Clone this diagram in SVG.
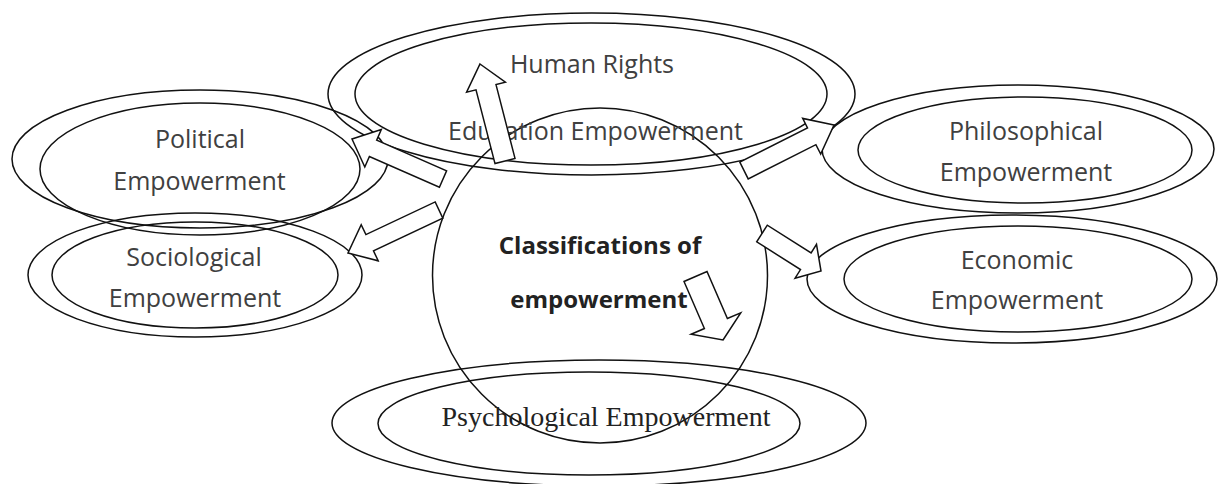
<svg xmlns="http://www.w3.org/2000/svg" width="1220" height="484" viewBox="0 0 1220 484">
<style>
.ring{fill:none;stroke:#111;stroke-width:1.5}
.arrow{fill:#fff;stroke:#111;stroke-width:1.5;stroke-linejoin:miter}
.lbl{font-family:"Open Sans","Liberation Sans",sans-serif;font-size:25px;fill:#404040;text-anchor:middle}
.ctr{font-family:"Open Sans","Liberation Sans",sans-serif;font-size:24px;font-weight:bold;fill:#222;text-anchor:middle}
.serif{font-family:"Liberation Serif","DejaVu Serif",serif;font-size:28px;fill:#222;text-anchor:middle}
</style>
<rect width="1220" height="484" fill="#fff"/>
<g id="node-center">
<circle class="ring" cx="600" cy="275.5" r="167.5"/>
<text class="ctr" x="600" y="254">Classifications of</text>
<text class="ctr" x="599" y="307.5">empowerment</text>
</g>
<g id="node-human-rights-education">
<ellipse class="ring" cx="591.5" cy="94" rx="263.5" ry="81"/>
<ellipse class="ring" cx="591" cy="94" rx="236" ry="71"/>
<text class="lbl" x="592" y="73">Human Rights</text>
<text class="lbl" x="595.5" y="140">Education Empowerment</text>
</g>
<g id="node-political">
<ellipse class="ring" cx="200" cy="159" rx="188" ry="69"/>
<ellipse class="ring" cx="200" cy="169" rx="160" ry="66"/>
<text class="lbl" x="200" y="148">Political</text>
<text class="lbl" x="199.5" y="190">Empowerment</text>
</g>
<g id="node-sociological">
<ellipse class="ring" cx="195" cy="275" rx="167" ry="62"/>
<ellipse class="ring" cx="195" cy="275" rx="143" ry="53"/>
<text class="lbl" x="194" y="265.5">Sociological</text>
<text class="lbl" x="195" y="306.5">Empowerment</text>
</g>
<g id="node-philosophical">
<ellipse class="ring" cx="1018" cy="149" rx="196" ry="64"/>
<ellipse class="ring" cx="1025" cy="150" rx="167" ry="53"/>
<text class="lbl" x="1026" y="140">Philosophical</text>
<text class="lbl" x="1026" y="180.5">Empowerment</text>
</g>
<g id="node-economic">
<ellipse class="ring" cx="1012" cy="279" rx="205" ry="64"/>
<ellipse class="ring" cx="1018" cy="279" rx="174" ry="53"/>
<text class="lbl" x="1017" y="269">Economic</text>
<text class="lbl" x="1017" y="309">Empowerment</text>
</g>
<g id="node-psychological">
<ellipse class="ring" cx="599" cy="423" rx="267" ry="63"/>
<ellipse class="ring" cx="589" cy="423.5" rx="211" ry="51.5"/>
<text class="serif" x="606" y="426">Psychological Empowerment</text>
</g>
<g id="connectors">
<polygon class="arrow" points="480,64 505.4,82.2 496,84.6 515,158.4 495,163.6 476,89.8 466.6,92.2"/>
<polygon class="arrow" points="352,139 364.8,167 369.4,156.5 439.4,187.2 446.6,170.8 376.7,140.1 381.3,129.5"/>
<polygon class="arrow" points="348,253 378.2,260.8 373.5,250.9 442.8,218.1 435.2,201.9 365.9,234.6 361.2,224.7"/>
<polygon class="arrow" points="834,125 802.7,118.4 807.5,127.9 739.8,162.1 748.2,178.9 815.9,144.7 820.7,154.1"/>
<polygon class="arrow" points="821,271 816.5,244.4 811.1,253 767.3,225.2 756.7,241.8 800.5,269.6 795.1,278.2"/>
<polygon class="arrow" points="723,340 740.7,312.8 727.4,318.5 707,271.5 684,281.5 704.4,328.5 691.1,334.2"/>
</g>
</svg>
